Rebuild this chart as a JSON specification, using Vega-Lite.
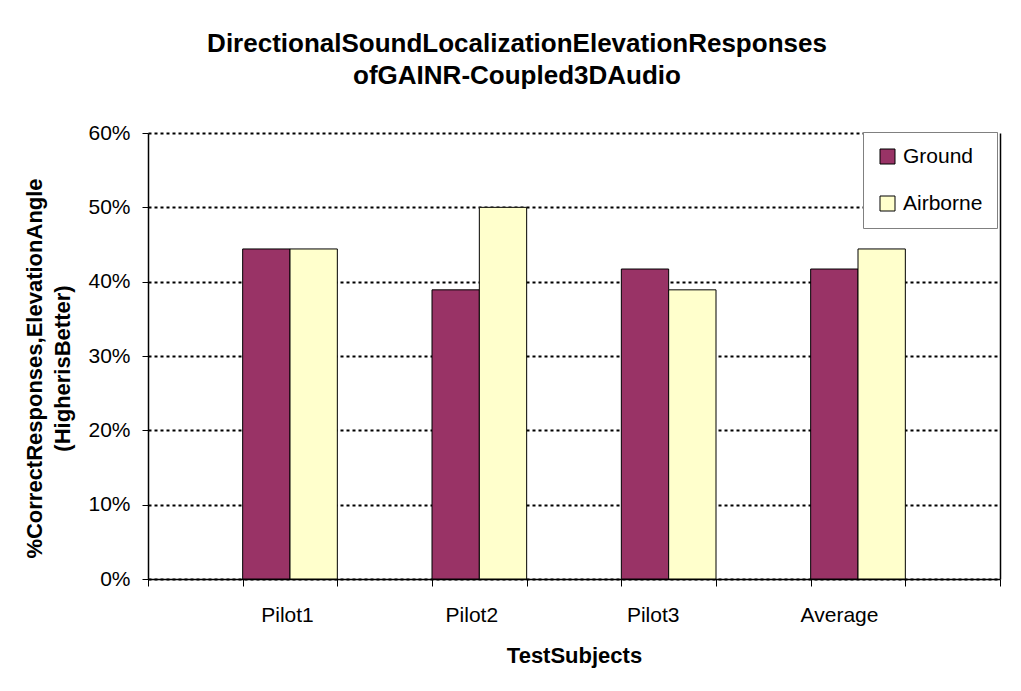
{
  "$schema": "https://vega.github.io/schema/vega-lite/v6.json",
  "autosize": "none",
  "width": 852,
  "height": 446,
  "padding": {"left": 148, "top": 133, "right": 21, "bottom": 112},
  "background": "white",
  "config": {
    "font": "Liberation Sans",
    "view": {"stroke": null},
    "axis": {"labelColor": "black", "titleColor": "black", "domainColor": "black", "tickColor": "black"}
  },
  "title": {
    "text": ["DirectionalSoundLocalizationElevationResponses", "ofGAINR-Coupled3DAudio"],
    "fontSize": 26,
    "fontWeight": "bold",
    "lineHeight": 32,
    "anchor": "middle",
    "offset": 33,
    "dx": -57,
    "color": "black"
  },
  "data": {
    "values": [
      {"subject": "Pilot1", "series": "Ground", "pct": 0.444},
      {"subject": "Pilot1", "series": "Airborne", "pct": 0.444},
      {"subject": "Pilot2", "series": "Ground", "pct": 0.389},
      {"subject": "Pilot2", "series": "Airborne", "pct": 0.5},
      {"subject": "Pilot3", "series": "Ground", "pct": 0.417},
      {"subject": "Pilot3", "series": "Airborne", "pct": 0.389},
      {"subject": "Average", "series": "Ground", "pct": 0.417},
      {"subject": "Average", "series": "Airborne", "pct": 0.444}
    ]
  },
  "encoding": {
    "x": {
      "field": "subject",
      "type": "nominal",
      "sort": null,
      "scale": {"domain": ["_0", "Pilot1", "_1", "Pilot2", "_2", "Pilot3", "_3", "Average", "_4"], "paddingInner": 0, "paddingOuter": 0},
      "axis": {
        "title": "TestSubjects",
        "titleFontSize": 22,
        "titleFontWeight": "bold",
        "titleBaseline": "middle",
        "titleY": 76,
        "labelAngle": 0,
        "labelFontSize": 21,
        "labelPadding": 18,
        "labelExpr": "indexof(datum.label, '_') === 0 ? '' : datum.label",
        "labelOffset": {"expr": "datum.value === 'Pilot1' ? -3 : datum.value === 'Pilot2' ? -8 : datum.value === 'Pilot3' ? -16 : -19"},
        "tickBand": "extent",
        "tickSize": 7,
        "grid": false,
        "domainWidth": 1.5
      }
    },
    "xOffset": {
      "field": "series",
      "type": "nominal",
      "scale": {"domain": ["Ground", "Airborne"], "paddingInner": 0, "paddingOuter": 0}
    },
    "y": {
      "field": "pct",
      "type": "quantitative",
      "scale": {"domain": [0, 0.6], "nice": false}
    }
  },
  "layer": [
    {
      "mark": {"type": "bar", "stroke": "black", "strokeWidth": 1},
      "encoding": {
        "y": {
          "field": "pct",
          "type": "quantitative",
          "scale": {"domain": [0, 0.6], "nice": false},
          "axis": {
            "title": ["%CorrectResponses,ElevationAngle", "(HigherisBetter)"],
            "titleFontSize": 22,
            "titleFontWeight": "bold",
            "titleLineHeight": 28,
            "titleAngle": -90,
            "titleAlign": "center",
            "titleBaseline": "middle",
            "titleX": -114,
            "titleY": 235,
            "format": ".0%",
            "values": [0, 0.1, 0.2, 0.3, 0.4, 0.5, 0.6],
            "labelFontSize": 21,
            "labelPadding": 12,
            "tickSize": 6,
            "domainWidth": 1.5,
            "grid": true,
            "gridColor": "black",
            "gridDash": [3, 3],
            "gridWidth": 2,
            "gridOpacity": 1
          }
        },
        "fill": {
          "field": "series",
          "type": "nominal",
          "scale": {"domain": ["Ground", "Airborne"], "range": ["#993366", "#FFFFCC"]},
          "legend": {
            "title": null,
            "orient": "none",
            "legendX": 715,
            "legendY": -1,
            "padding": 14,
            "strokeColor": "#808080",
            "fillColor": "white",
            "symbolType": "square",
            "symbolSize": 225,
            "symbolStrokeColor": "black",
            "symbolStrokeWidth": 1,
            "symbolOpacity": 1,
            "labelFontSize": 21,
            "labelColor": "black",
            "labelOffset": 5,
            "rowPadding": 25
          }
        }
      }
    },
    {
      "mark": {"type": "bar", "opacity": 0},
      "encoding": {
        "y": {
          "field": "pct",
          "type": "quantitative",
          "scale": {"domain": [0, 0.6], "nice": false},
          "axis": {"orient": "right", "title": null, "labels": false, "ticks": false, "grid": false, "domainWidth": 1.5, "domainColor": "black"}
        }
      }
    }
  ],
  "resolve": {"axis": {"y": "independent"}}
}
